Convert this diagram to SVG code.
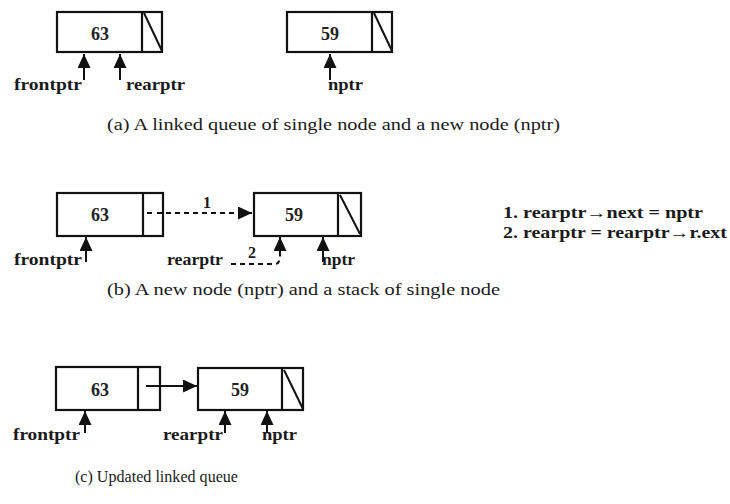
<svg xmlns="http://www.w3.org/2000/svg" width="730" height="504" viewBox="0 0 730 504">
<defs>
<marker id="ah" markerUnits="userSpaceOnUse" markerWidth="16" markerHeight="14" refX="14" refY="6.5" orient="auto">
<path d="M0,0 L14,6.5 L0,13 Z" fill="#111"/>
</marker>
</defs>
<style>
.box{fill:#fff;stroke:#111;stroke-width:2.2}
.div{stroke:#111;stroke-width:2.2;fill:none}
.diag{stroke:#111;stroke-width:2;fill:none}
.num{font-family:"Liberation Serif",serif;font-weight:bold;font-size:18px;fill:#222;text-anchor:middle}
.lbl{font-family:"Liberation Serif",serif;font-weight:bold;font-size:16px;fill:#1a1a1a}
.cap{font-family:"Liberation Serif",serif;font-size:16px;fill:#1a1a1a}
.ptr{stroke:#111;stroke-width:2;fill:none;marker-end:url(#ah)}
.dash{stroke:#111;stroke-width:2;fill:none;stroke-dasharray:5 4}
</style>
<rect width="730" height="504" fill="#fff"/>

<!-- (a) -->
<g id="a-node63">
<rect class="box" x="57" y="12" width="105" height="40"/>
<line class="div" x1="142" y1="12" x2="142" y2="52"/>
<line class="diag" x1="144" y1="13" x2="162" y2="51"/>
<text class="num" x="100" y="40">63</text>
</g>
<g id="a-node59">
<rect class="box" x="287" y="12" width="105" height="40"/>
<line class="div" x1="372" y1="12" x2="372" y2="52"/>
<line class="diag" x1="374" y1="13" x2="392" y2="51"/>
<text class="num" x="330" y="40">59</text>
</g>
<g id="a-frontptr"><text class="lbl" x="14" y="90" textLength="68" lengthAdjust="spacingAndGlyphs">frontptr</text></g>
<g id="a-rearptr"><text class="lbl" x="126" y="90" textLength="59" lengthAdjust="spacingAndGlyphs">rearptr</text></g>
<g id="a-nptr"><text class="lbl" x="328" y="90" textLength="35" lengthAdjust="spacingAndGlyphs">nptr</text></g>
<text class="cap" x="107" y="130" textLength="453" lengthAdjust="spacingAndGlyphs">(a) A linked queue of single node and a new node (nptr)</text>

<!-- (b) -->
<g id="b-node63">
<rect class="box" x="57" y="193" width="106" height="43"/>
<line class="div" x1="143" y1="193" x2="143" y2="236"/>
<line x1="147" y1="213" x2="152" y2="213" stroke="#111" stroke-width="2"/>
<text class="num" x="100" y="221">63</text>
</g>
<g id="b-node59">
<rect class="box" x="254" y="193" width="107" height="43"/>
<line class="div" x1="338" y1="193" x2="338" y2="236"/>
<line class="diag" x1="340" y1="195" x2="360" y2="234"/>
<text class="num" x="294" y="221">59</text>
</g>
<g id="b-frontptr"><text class="lbl" x="14" y="265" textLength="68" lengthAdjust="spacingAndGlyphs">frontptr</text></g>
<g id="b-rearptr"><text class="lbl" x="167" y="265" textLength="56" lengthAdjust="spacingAndGlyphs">rearptr</text></g>
<g id="b-nptr"><text class="lbl" x="322" y="265" textLength="33" lengthAdjust="spacingAndGlyphs">nptr</text></g>
<text class="cap" x="107" y="295" textLength="393" lengthAdjust="spacingAndGlyphs">(b) A new node (nptr) and a stack of single node</text>
<g id="b-steps">
<text class="lbl" x="503" y="218" textLength="200" lengthAdjust="spacingAndGlyphs">1. rearptr→next = nptr</text>
<text class="lbl" x="503" y="238" textLength="224" lengthAdjust="spacingAndGlyphs">2. rearptr = rearptr→r.ext</text>
</g>

<!-- (c) -->
<g id="c-node63">
<rect class="box" x="56" y="367" width="104" height="43"/>
<line class="div" x1="138" y1="367" x2="138" y2="410"/>
<text class="num" x="100" y="396">63</text>
</g>
<g id="c-node59">
<rect class="box" x="198" y="368" width="105" height="42"/>
<line class="div" x1="282" y1="368" x2="282" y2="410"/>
<line class="diag" x1="284" y1="370" x2="303" y2="409"/>
<text class="num" x="240" y="396">59</text>
</g>
<g id="c-frontptr"><text class="lbl" x="13" y="440" textLength="67" lengthAdjust="spacingAndGlyphs">frontptr</text></g>
<g id="c-rearptr"><text class="lbl" x="163" y="440" textLength="60" lengthAdjust="spacingAndGlyphs">rearptr</text></g>
<g id="c-nptr"><text class="lbl" x="262" y="440" textLength="35" lengthAdjust="spacingAndGlyphs">nptr</text></g>
<text class="cap" x="75" y="482" textLength="163" lengthAdjust="spacingAndGlyphs">(c) Updated linked queue</text>

<g id="connectors">
<!-- (a) -->
<line class="ptr" x1="84" y1="80" x2="84" y2="54"/>
<line class="ptr" x1="120" y1="80" x2="120" y2="54"/>
<line class="ptr" x1="330" y1="80" x2="330" y2="54"/>
<!-- (b) -->
<line class="ptr" x1="86" y1="262" x2="86" y2="237"/>
<line class="ptr" x1="280" y1="256" x2="280" y2="237"/>
<line class="ptr" x1="323" y1="262" x2="323" y2="237"/>
<line class="dash" x1="157" y1="213" x2="252" y2="213" marker-end="url(#ah)"/>
<text class="lbl" x="207" y="208" text-anchor="middle">1</text>
<path class="dash" d="M231 264 L275 264 Q280 264 280 256"/>
<text class="lbl" x="252" y="258" text-anchor="middle">2</text>
<!-- (c) -->
<line class="ptr" x1="85" y1="433" x2="85" y2="411"/>
<line class="ptr" x1="225" y1="433" x2="225" y2="411"/>
<line class="ptr" x1="267" y1="433" x2="267" y2="411"/>
<line class="ptr" x1="146" y1="386" x2="197" y2="386"/>
</g>
</svg>
